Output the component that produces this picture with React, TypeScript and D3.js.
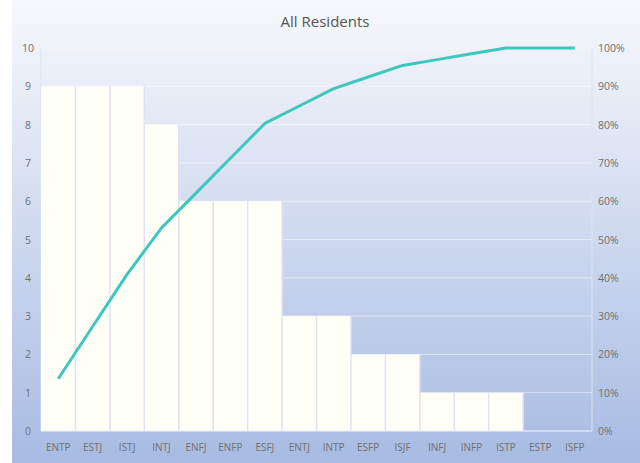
import React from "react";
import * as d3 from "d3";

const categories = ["ENTP","ESTJ","ISTJ","INTJ","ENFJ","ENFP","ESFJ","ENTJ","INTP","ESFP","ISJF","INFJ","INFP","ISTP","ESTP","ISFP"];
const counts = [9,9,9,8,6,6,6,3,3,2,2,1,1,1,0,0];
const leftTicks = [0,1,2,3,4,5,6,7,8,9,10];
const rightTicks = [0,10,20,30,40,50,60,70,80,90,100];
const title = "All Residents";

const W = 640, H = 463;
const m = { left: 41, right: 592, top: 48, bottom: 431 };

export default function App() {
  const x = d3.scaleBand<string>().domain(categories).range([m.left, m.right]).paddingInner(0).paddingOuter(0);
  const y = d3.scaleLinear().domain([0, 10]).range([m.bottom, m.top]);
  const yp = d3.scaleLinear().domain([0, 100]).range([m.bottom, m.top]);
  const total = d3.sum(counts);
  const cum = Array.from(d3.cumsum(counts)).map((c) => (c / total) * 100);
  const line = d3.line<number>()
    .x((_, i) => (x(categories[i]) as number) + x.bandwidth() / 2)
    .y((d) => yp(d));
  const font = "'Open Sans', 'DejaVu Sans', sans-serif";
  return (
    <svg width={W} height={H} style={{ position: "absolute", left: 0, top: 0 }}>
      <defs>
        <linearGradient id="bg" x1="0" y1="0" x2="0" y2="1">
          <stop offset="0" stopColor="#f7f8fc" />
          <stop offset="0.25" stopColor="#e4e9f5" />
          <stop offset="0.55" stopColor="#cbd6ee" />
          <stop offset="1" stopColor="#a7bbe2" />
        </linearGradient>
      </defs>
      <rect x={0} y={0} width={W} height={H} fill="#ffffff" />
      <rect x={12} y={0} width={W - 12} height={H} fill="url(#bg)" />
      <text x={325} y={27} textAnchor="middle" fontFamily={font} fontSize={15} fill="#555">{title}</text>
      {leftTicks.map((t) => (
        <line key={"g" + t} x1={m.left} x2={m.right} y1={y(t)} y2={y(t)} stroke="#ffffff" strokeOpacity={0.5} strokeWidth={1} />
      ))}
      <line x1={m.left} x2={m.left} y1={m.top} y2={m.bottom} stroke="#dde2f0" strokeWidth={1} />
      <line x1={m.right} x2={m.right} y1={m.top} y2={m.bottom} stroke="#dde2f0" strokeWidth={1} />
      {categories.map((c, i) => (
        counts[i] > 0 ? (
          <rect key={c} x={x(c)} y={y(counts[i])} width={x.bandwidth()} height={m.bottom - y(counts[i])} fill="#fffff8" />
        ) : null
      ))}
      {categories.map((c, i) => (
        counts[i] > 0 ? (
          <line key={"s" + c} x1={(x(c) as number) + x.bandwidth()} x2={(x(c) as number) + x.bandwidth()} y1={y(counts[i])} y2={m.bottom} stroke="#dfe2f1" strokeWidth={1.5} />
        ) : null
      ))}
      <line x1={m.left} x2={m.right} y1={m.bottom} y2={m.bottom} stroke="#e2e5f2" strokeWidth={1} />
      <path d={line(cum) || ""} fill="none" stroke="#3ec7bf" strokeWidth={3} strokeLinejoin="round" />
      {leftTicks.map((t) => (
        <text key={"l" + t} x={28} y={y(t) + 4} textAnchor="middle" fontFamily={font} fontSize={10.5} fill="#707070">{t}</text>
      ))}
      {rightTicks.map((t) => (
        <text key={"r" + t} x={598} y={yp(t) + 4} textAnchor="start" fontFamily={font} fontSize={10.5} fill="#707070">{t + "%"}</text>
      ))}
      {categories.map((c) => (
        <text key={"x" + c} x={(x(c) as number) + x.bandwidth() / 2} y={451} textAnchor="middle" fontFamily={font} fontSize={10} fill="#707070">{c}</text>
      ))}
    </svg>
  );
}
